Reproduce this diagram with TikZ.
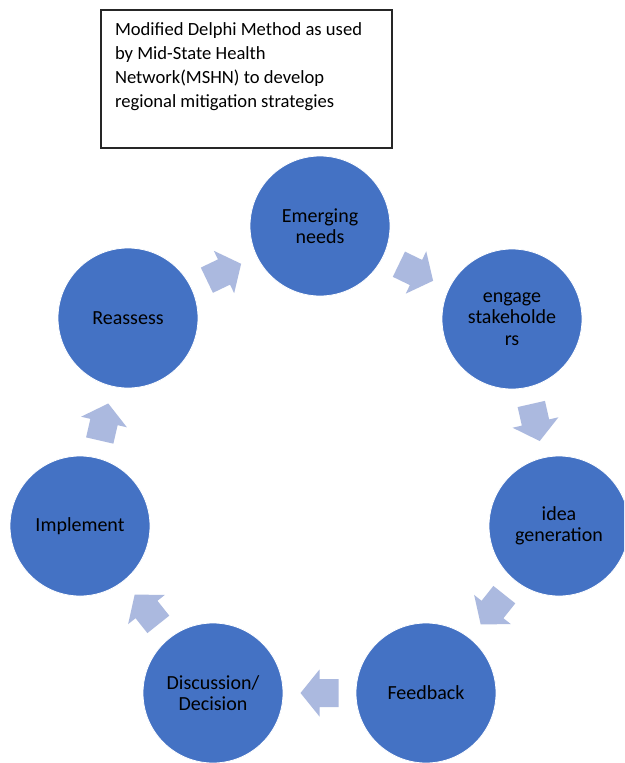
\documentclass[tikz,border=0pt]{standalone}
\usepackage{fontspec}
\setmainfont{Carlito}
\usetikzlibrary{calc}
\definecolor{ringblue}{HTML}{4472C4}
\definecolor{arrowblue}{RGB}{171,185,223}
\tikzset{
  stage/.style={circle, fill=ringblue, draw=white, line width=0.8pt,
    minimum size=140pt, inner sep=0pt, align=center, text=black,
    font=\fontsize{20}{21.5}\selectfont},
  blockarrow/.pic={
    \fill[arrowblue] (-19,-14) -- (0,-14) -- (0,-23.5) -- (19,0)
      -- (0,23.5) -- (0,14) -- (-19,14) -- cycle;},
  titlebox/.style={draw=black!85, line width=1.2pt, anchor=north west,
    inner xsep=14pt, inner ysep=0pt, outer sep=0pt, text=black,
    font=\fontsize{18.6}{24}\selectfont},
}
\begin{document}
\begin{tikzpicture}[x=1pt,y=-1pt]
  \clip (0,0) rectangle (624,763);
  \fill[white] (0,0) rectangle (624,763);

  % caption box
  \node[titlebox] (title) at (101,10)
    {\parbox[c][138pt][t]{263pt}{\raggedright\rule{0pt}{25pt}Modified Delphi Method as used\\
      by Mid-State Health\\
      Network(MSHN) to develop\\
      regional mitigation strategies}};

  % the seven stages of the cycle
  \node[stage] (E) at (320,226) {Emerging\\needs};
  \node[stage] (S) at (512,319) {engage\\stakeholde\\rs};
  \node[stage] (G) at (559,526) {idea\\generation};
  \node[stage] (F) at (426,693) {Feedback};
  \node[stage] (D) at (213,693) {Discussion/\\Decision};
  \node[stage] (I) at (80,526)  {Implement};
  \node[stage] (R) at (128,318) {Reassess};

  % block arrows between consecutive stages
  \foreach \a/\b in {R/E,E/S,S/G,G/F,F/D,D/I,I/R}
    \path let \p1 = ($(\b)-(\a)$), \n1 = {atan2(\y1,\x1)} in
      pic[rotate=\n1] at ($(\a)!0.5!(\b)$) {blockarrow};
\end{tikzpicture}
\end{document}
